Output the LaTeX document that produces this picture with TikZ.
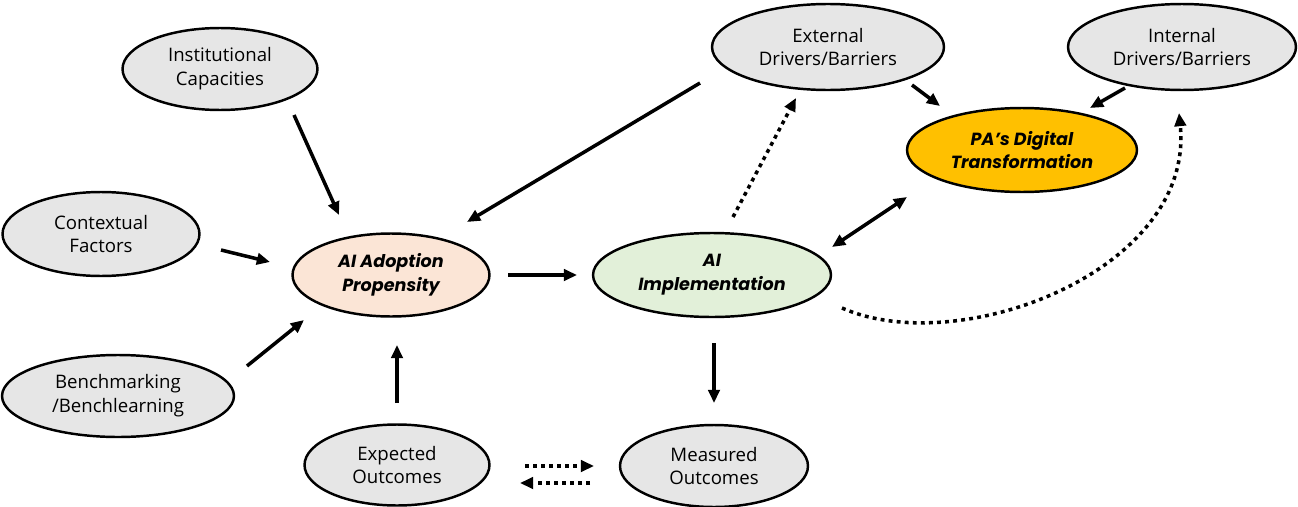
\documentclass[tikz,border=0pt]{standalone}
\usepackage{fontspec}
\setmainfont{Open Sans}
\newfontfamily\bfifont{Poppins}
\usetikzlibrary{arrows.meta,shapes.geometric}
\definecolor{grayfill}{HTML}{E6E6E6}
\definecolor{peach}{HTML}{FBE5D6}
\definecolor{lgreen}{HTML}{E2F0D9}
\definecolor{gold}{HTML}{FFC000}
\begin{document}
\begin{tikzpicture}[x=0.02cm,y=-0.02cm,
  oval/.style={ellipse, draw=black, line width=1.4pt, inner sep=0pt, align=center,
    font=\fontsize{10.6}{13.6}\selectfont},
  grayoval/.style={oval, fill=grayfill},
  keyoval/.style={oval, font=\bfifont\bfseries\itshape\fontsize{10}{13.6}\selectfont},
  arr/.style={line width=2pt, -{Triangle[length=7.5pt,width=6.5pt]}},
  darr/.style={line width=2pt, {Triangle[length=7.5pt,width=6.5pt]}-{Triangle[length=7.5pt,width=6.5pt]}},
  dotarr/.style={line width=2pt, dash pattern=on 2.2pt off 2.4pt, -{Triangle[length=7.5pt,width=6.5pt]}}
]
\useasboundingbox (0,0) rectangle (1298,507);

% nodes
\node[grayoval, minimum width=3.90cm, minimum height=1.64cm] (inst) at (220,69) {Institutional\\Capacities};
\node[grayoval, minimum width=3.94cm, minimum height=1.68cm] (ctx) at (101,234) {Contextual\\Factors};
\node[grayoval, minimum width=4.64cm, minimum height=1.64cm] (bench) at (118,396) {Benchmarking\\/Benchlearning};
\node[keyoval, fill=peach, minimum width=3.94cm, minimum height=1.66cm] (adopt) at (391,275) {AI Adoption\\Propensity};
\node[keyoval, fill=lgreen, minimum width=4.76cm, minimum height=1.68cm] (impl) at (712,275) {AI\\Implementation};
\node[keyoval, fill=gold, minimum width=4.60cm, minimum height=1.68cm] (pa) at (1022,150) {PA’s Digital\\Transformation};
\node[grayoval, minimum width=4.64cm, minimum height=1.72cm] (ext) at (828,47) {External\\Drivers/Barriers};
\node[grayoval, minimum width=4.56cm, minimum height=1.72cm] (int) at (1182,47) {Internal\\Drivers/Barriers};
\node[grayoval, minimum width=3.70cm, minimum height=1.62cm] (exp) at (397,465) {Expected\\Outcomes};
\node[grayoval, minimum width=3.76cm, minimum height=1.64cm] (meas) at (714,466) {Measured\\Outcomes};

% connector end points
\coordinate (instA) at (294,115); \coordinate (instB) at (339,215);
\coordinate (ctxA) at (221,250);  \coordinate (ctxB) at (270,262);
\coordinate (benA) at (247,366);  \coordinate (benB) at (304,320);
\coordinate (extA) at (700,83);   \coordinate (extB) at (467,222);
\coordinate (adA) at (508,275);   \coordinate (adB) at (577,275);
\coordinate (expA) at (397,403);  \coordinate (expB) at (397,345);
\coordinate (impA) at (714,343);  \coordinate (impB) at (714,403);
\coordinate (eoA) at (525,466);   \coordinate (eoB) at (594,466);
\coordinate (moA) at (590,483);   \coordinate (moB) at (520,483);
\coordinate (epA) at (912,85);    \coordinate (epB) at (940,106);
\coordinate (ipA) at (1125,88);   \coordinate (ipB) at (1090,108);
\coordinate (ieA) at (733,217);   \coordinate (ieB) at (796,98);
\coordinate (dtA) at (832,247);   \coordinate (dtB) at (907,197);
\coordinate (cvA) at (842,308);   \coordinate (cvB) at (1179,113);

% connectors
\draw[arr] (instA) -- (instB);
\draw[arr] (ctxA) -- (ctxB);
\draw[arr] (benA) -- (benB);
\draw[arr] (extA) -- (extB);
\draw[arr] (adA) -- (adB);
\draw[arr] (expA) -- (expB);
\draw[arr] (impA) -- (impB);
\draw[arr] (epA) -- (epB);
\draw[arr] (ipA) -- (ipB);
\draw[darr] (dtA) -- (dtB);
\draw[dotarr] (eoA) -- (eoB);
\draw[dotarr] (moA) -- (moB);
\draw[dotarr] (ieA) -- (ieB);
\draw[dotarr] (cvA) .. controls (960,360) and (1195,270) .. (cvB);
\end{tikzpicture}
\end{document}
